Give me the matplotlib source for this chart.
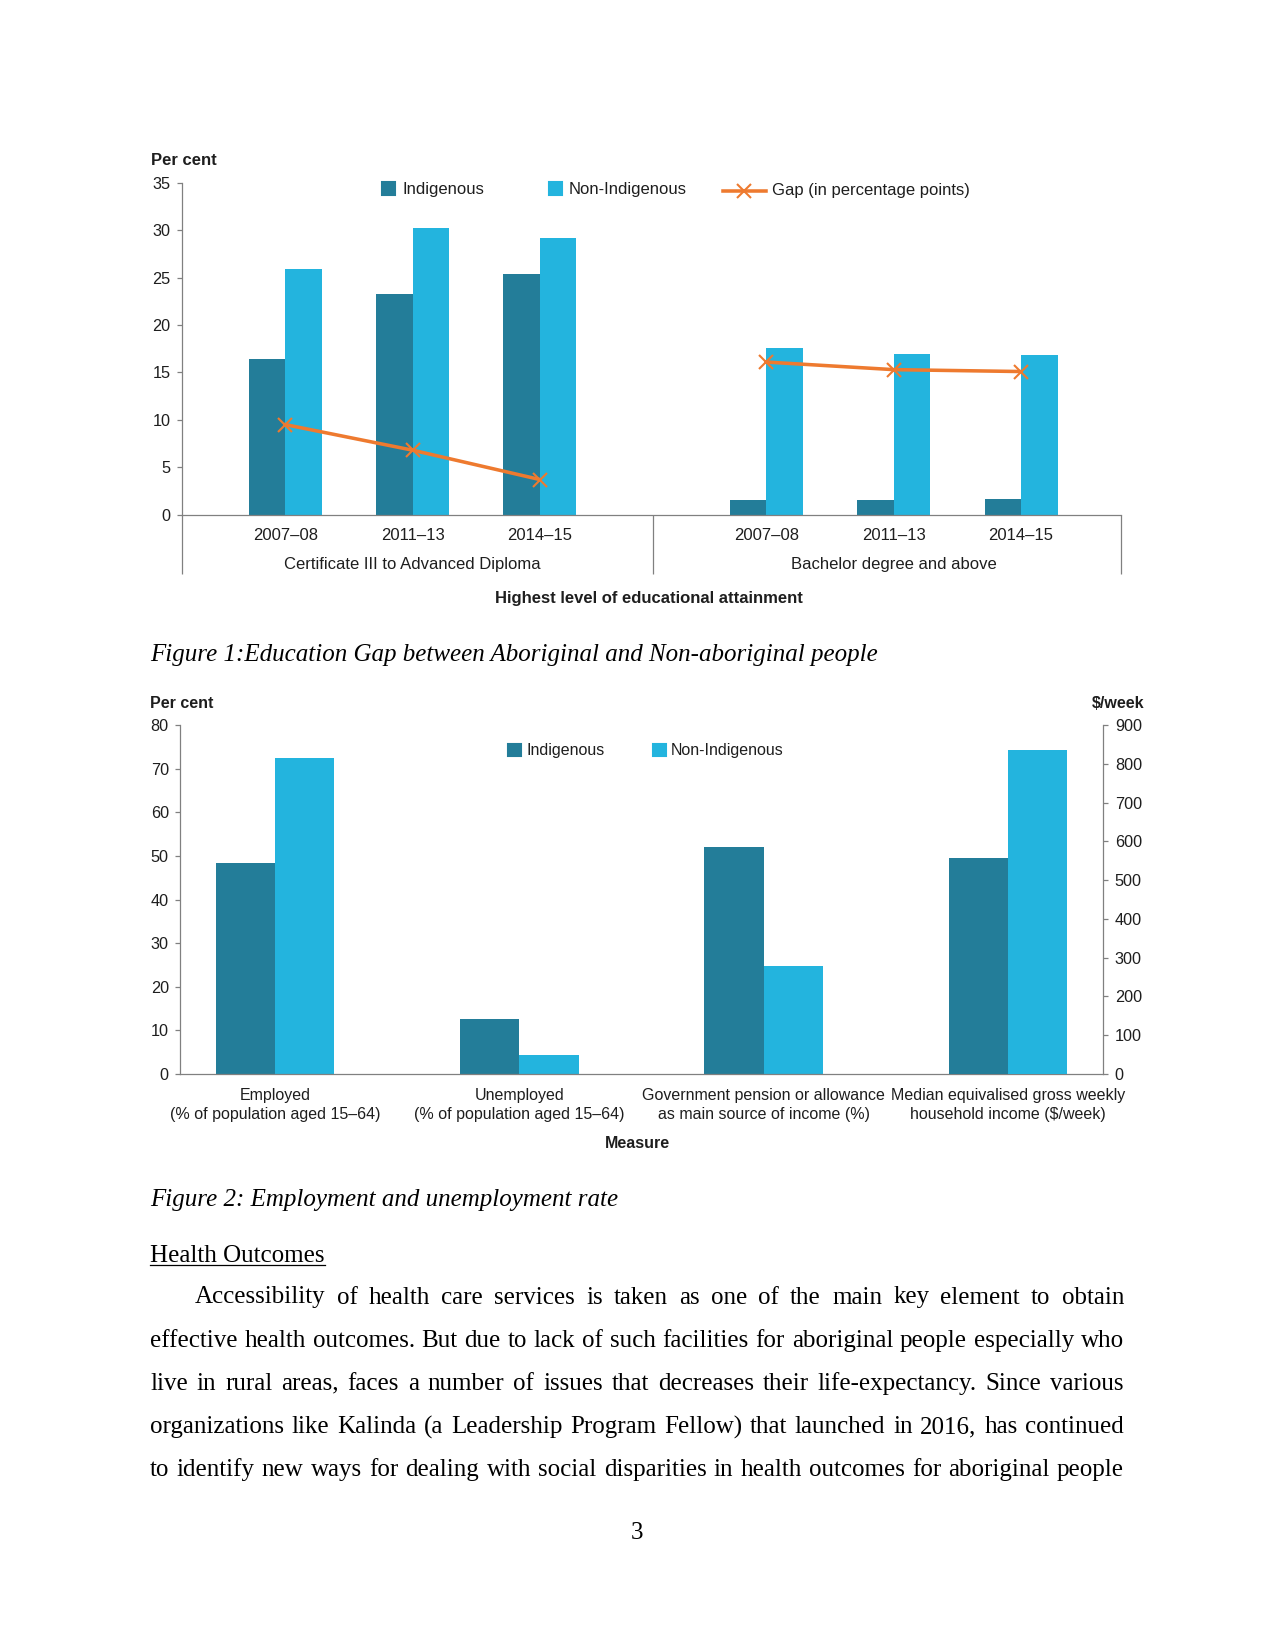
import numpy as np
import matplotlib
matplotlib.use("Agg")
import matplotlib.pyplot as plt
from matplotlib.patches import Rectangle
from matplotlib.lines import Line2D

# ---- data ----
edu_years = ["2007\u201308", "2011\u201313", "2014\u201315"]
edu_groups = ["Certificate III to Advanced Diploma", "Bachelor degree and above"]
cert_indigenous = [16.4, 23.3, 25.4]
cert_non_indigenous = [25.9, 30.2, 29.2]
cert_gap = [9.5, 6.8, 3.7]
bach_indigenous = [1.5, 1.55, 1.6]
bach_non_indigenous = [17.6, 16.9, 16.8]
bach_gap = [16.1, 15.3, 15.1]

measures = ["Employed\n(% of population aged 15\u201364)",
            "Unemployed\n(% of population aged 15\u201364)",
            "Government pension or allowance\nas main source of income (%)",
            "Median equivalised gross weekly\nhousehold income ($/week)"]
pct_indigenous = [48.4, 12.7, 52.0]
pct_non_indigenous = [72.5, 4.4, 24.8]
income_indigenous = [558]
income_non_indigenous = [835]

body_lines = [
    "Accessibility of health care services is taken as one of the main key element to obtain",
    "effective health outcomes. But due to lack of such facilities for aboriginal people especially who",
    "live in rural areas, faces a number of issues that decreases their life-expectancy. Since various",
    "organizations like Kalinda (a Leadership Program Fellow) that launched in 2016, has continued",
    "to identify new ways for dealing with social disparities in health outcomes for aboriginal people",
]

C_IND = "#237d99"
C_NON = "#23b4de"
C_GAP = "#ee7a2f"
C_AX = "#808080"
C_TXT = "#1e1e1e"

W, H = 1275, 1651
DPI = 150
plt.rcParams["font.family"] = ["Liberation Sans", "DejaVu Sans"]

fig = plt.figure(figsize=(W / DPI, H / DPI), dpi=DPI)


def fx(x):
    return x / W


def fy(y):
    return 1 - y / H


def style_axis(ax):
    for s in ["top", "right"]:
        ax.spines[s].set_visible(False)
    for s in ["left", "bottom"]:
        ax.spines[s].set_color(C_AX)
        ax.spines[s].set_linewidth(0.6)
    ax.tick_params(axis="y", length=2.2, width=0.6, color=C_AX, labelsize=7.8,
                   labelcolor=C_TXT, pad=3.2)
    ax.tick_params(axis="x", length=0, labelcolor=C_TXT)


# ---------------- Figure 1 ----------------
ax1 = fig.add_axes([fx(182), fy(514.6), fx(1121) - fx(182), fy(183) - fy(514.6)])
style_axis(ax1)
bw = 0.287
x_cert = np.arange(3)
x_bach = np.arange(3) + 3.78
xpos = np.concatenate([x_cert, x_bach])
ax1.bar(xpos - bw / 2, cert_indigenous + bach_indigenous, bw, color=C_IND)
ax1.bar(xpos + bw / 2, cert_non_indigenous + bach_non_indigenous, bw, color=C_NON)
for xs, g in [(x_cert, cert_gap), (x_bach, bach_gap)]:
    ax1.plot(xs, g, color=C_GAP, lw=1.7, marker="x", ms=7, mew=1.0)
ax1.set_xlim(-0.811, 6.565)
ax1.set_ylim(0, 35)
ax1.set_yticks(range(0, 36, 5))
ax1.set_xticks(xpos, edu_years * 2, fontsize=8)
ax1.tick_params(axis="x", pad=6.5)
div = (x_cert[-1] + x_bach[0]) / 2
ax1.vlines([-0.811, div, 6.565], -6.27, 0, color=C_AX, lw=0.6, clip_on=False)
ax1.text(x_cert.mean(), -5.3, edu_groups[0], ha="center", va="center",
         fontsize=8, color=C_TXT)
ax1.text(x_bach.mean(), -5.3, edu_groups[1], ha="center", va="center",
         fontsize=8, color=C_TXT)
fig.text(fx(649), fy(599), "Highest level of educational attainment", ha="center",
         va="center", fontsize=8, fontweight="bold", color=C_TXT)
fig.text(fx(151), fy(165), "Per cent", ha="left", va="baseline", fontsize=8,
         fontweight="bold", color=C_TXT)

# legend (drawn by hand to keep the item spacing)
fig.patches.append(Rectangle((fx(382), fy(195)), fx(13), fy(182) - fy(195),
                             transform=fig.transFigure, color=C_IND))
fig.text(fx(402), fy(189.5), "Indigenous", va="center", fontsize=8, color=C_TXT)
fig.patches.append(Rectangle((fx(549), fy(195)), fx(13), fy(182) - fy(195),
                             transform=fig.transFigure, color=C_NON))
fig.text(fx(569), fy(189.5), "Non-Indigenous", va="center", fontsize=8, color=C_TXT)
fig.lines.append(Line2D([fx(723), fx(766)], [fy(191), fy(191)], transform=fig.transFigure,
                        color=C_GAP, lw=1.7))
fig.lines.append(Line2D([fx(744.5)], [fy(191)], transform=fig.transFigure,
                        color=C_GAP, marker="x", ms=7, mew=1.0))
fig.text(fx(772), fy(191), "Gap (in percentage points)", va="center", fontsize=8,
         color=C_TXT)

# ---------------- Figure 2 ----------------
ax2 = fig.add_axes([fx(180), fy(1074), fx(1103) - fx(180), fy(725) - fy(1074)])
style_axis(ax2)
bw2 = 0.242
x2 = np.arange(len(measures))
ax2.bar(x2[:3] - bw2 / 2, pct_indigenous, bw2, color=C_IND)
ax2.bar(x2[:3] + bw2 / 2, pct_non_indigenous, bw2, color=C_NON)
ax2.set_xlim(-0.39, 3.39)
ax2.set_ylim(0, 80)
ax2.set_yticks(range(0, 81, 10))
ax2.set_xticks(x2, measures, fontsize=7.7, linespacing=1.35)
ax2.tick_params(axis="x", pad=6.5)

ax2r = ax2.twinx()
for s in ["top", "left", "bottom"]:
    ax2r.spines[s].set_visible(False)
ax2r.spines["right"].set_color(C_AX)
ax2r.spines["right"].set_linewidth(0.6)
ax2r.bar(x2[3:] - bw2 / 2, income_indigenous, bw2, color=C_IND)
ax2r.bar(x2[3:] + bw2 / 2, income_non_indigenous, bw2, color=C_NON)
ax2r.set_ylim(0, 900)
ax2r.set_yticks(range(0, 901, 100))
ax2r.tick_params(axis="y", length=2.2, width=0.6, color=C_AX, labelsize=7.8,
                 labelcolor=C_TXT, pad=3.5)

fig.text(fx(150), fy(708), "Per cent", ha="left", va="baseline", fontsize=7.7,
         fontweight="bold", color=C_TXT)
fig.text(fx(1144), fy(708), "$/week", ha="right", va="baseline", fontsize=7.7,
         fontweight="bold", color=C_TXT)
fig.text(fx(637), fy(1143), "Measure", ha="center", va="center", fontsize=7.7,
         fontweight="bold", color=C_TXT)
fig.patches.append(Rectangle((fx(508), fy(756)), fx(13), fy(744) - fy(756),
                             transform=fig.transFigure, color=C_IND))
fig.text(fx(526), fy(751), "Indigenous", va="center", fontsize=7.7, color=C_TXT)
fig.patches.append(Rectangle((fx(653), fy(756)), fx(13), fy(744) - fy(756),
                             transform=fig.transFigure, color=C_NON))
fig.text(fx(671), fy(751), "Non-Indigenous", va="center", fontsize=7.7, color=C_TXT)

# ---------------- document text ----------------
serif = ["Liberation Serif", "DejaVu Serif"]
fig.text(fx(150), fy(661), "Figure 1:Education Gap between Aboriginal and Non-aboriginal people",
         family=serif, style="italic", fontsize=12, va="baseline", color="black")
fig.text(fx(150), fy(1206), "Figure 2: Employment and unemployment rate",
         family=serif, style="italic", fontsize=12, va="baseline", color="black")
head = fig.text(fx(150), fy(1262), "Health Outcomes", family=serif, fontsize=12,
                va="baseline", color="black")
fig.text(fx(637.5), fy(1539), "3", family=serif, fontsize=12, ha="center",
         va="baseline", color="black")

renderer = fig.canvas.get_renderer()
hw = head.get_window_extent(renderer).width
fig.lines.append(Line2D([fx(150), fx(150 + hw)], [fy(1265), fy(1265)],
                        transform=fig.transFigure, color="black", lw=0.6))


def justify(words, y, x0, x1):
    texts = [fig.text(0, fy(y), w, family=serif, fontsize=12, va="baseline",
                      color="black") for w in words]
    widths = [t.get_window_extent(renderer).width for t in texts]
    gap = (x1 - x0 - sum(widths)) / (len(words) - 1)
    x = x0
    for t, w in zip(texts, widths):
        t.set_x(fx(x))
        x += w + gap


for i, line in enumerate(body_lines):
    x0 = 195 if i == 0 else 150
    justify(line.split(), 1303.5 + 43.2 * i, x0, 1124)

fig.savefig("out.png", dpi=DPI)
